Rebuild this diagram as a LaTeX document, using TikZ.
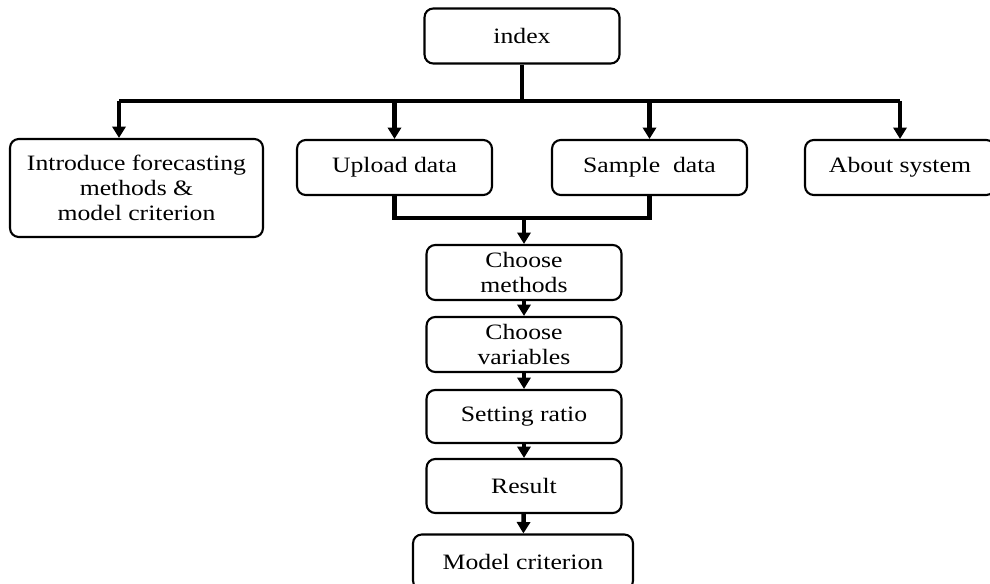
\documentclass[tikz,border=0pt]{standalone}
\usepackage{fontspec}
\setmainfont[FakeStretch=1.17]{Liberation Serif}
\usetikzlibrary{arrows.meta, positioning}

\begin{document}
\begin{tikzpicture}[x=0.02cm, y=-0.02cm,
  box/.style={draw, line width=1.2pt, rounded corners=5pt, align=center, inner sep=0pt,
    minimum width=3.9cm, minimum height=1.1cm, font=\fontsize{12.5}{14.2}\selectfont},
  link/.style={line width=2.6pt},
  arrowlink/.style={link, -{Triangle[width=7.5pt,length=6.5pt]}}]
\useasboundingbox (0,0) rectangle (990,584);
\node[box] (index) at (522,36) {index};
\node[box, minimum width=5.06cm, minimum height=1.96cm] (intro) at (136.5,188) {Introduce forecasting\\methods \&\\model criterion};
\node[box] (upload) at (394.5,167.5) {Upload data};
\node[box] (sample) at (649.5,167.5) {Sample\ \ data};
\node[box, minimum width=3.8cm] (about) at (900,167.5) {About system};
\node[box] (methods) at (524,272.5) {Choose\\methods};
\node[box] (variables) at (524,344.5) {Choose\\variables};
\node[box, minimum height=1.06cm] (ratio) at (524,416.5) {Setting ratio};
\node[box, minimum height=1.08cm] (result) at (524,486) {Result};
\node[box, minimum width=4.4cm] (model) at (523,562) {Model criterion};
% index to the four pages
\coordinate (barL) at (119,101);
\coordinate (barR) at (900,101);
\draw[link] (index.south) -- (index.south |- barL);
\draw[link] (barL) -- (barR);
\draw[arrowlink] (barL) -- (barL |- intro.north);
\draw[arrowlink] (upload.north |- barL) -- (upload.north);
\draw[arrowlink] (sample.north |- barL) -- (sample.north);
\draw[arrowlink] (barR) -- (about.north);
% data into the chain
\coordinate (join) at (524,218);
\draw[link] (upload.south) |- (join) -| (sample.south);
\draw[arrowlink] (join) -- (methods.north);
\draw[arrowlink] (methods) -- (variables);
\draw[arrowlink] (variables) -- (ratio);
\draw[arrowlink] (ratio) -- (result);
\draw[arrowlink] (result) -- (model);
\end{tikzpicture}
\end{document}
